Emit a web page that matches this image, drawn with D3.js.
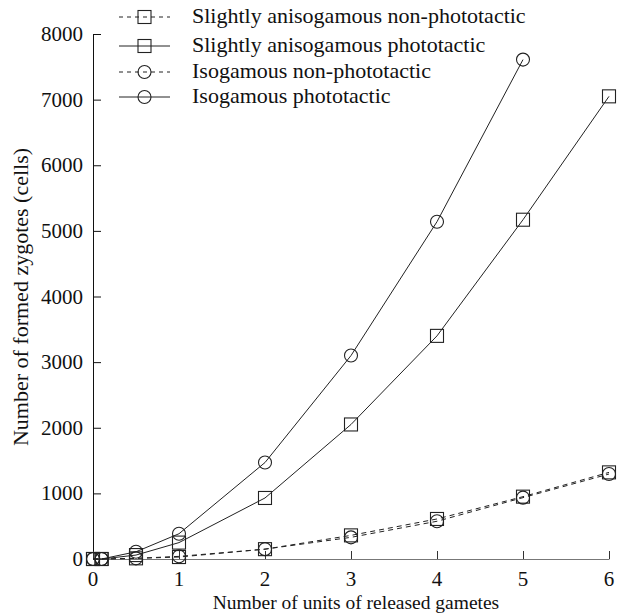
<!DOCTYPE html>
<html><head><meta charset="utf-8">
<script src="https://cdn.jsdelivr.net/npm/d3@7"></script>
</head><body style="margin:0">
<script>
const xsFull = [0, 0.1, 0.5, 1, 2, 3, 4, 5, 6];
const xsIsoPhoto = [0, 0.1, 0.5, 1, 2, 3, 4, 5];
const anisoNon = [0, 0, 10, 30, 150, 360, 610, 950, 1320];
const anisoPhoto = [0, 0, 60, 250, 930, 2050, 3400, 5170, 7050];
const isoNon = [0, 0, 10, 40, 150, 330, 575, 935, 1295];
const isoPhoto = [0, 0, 110, 385, 1470, 3100, 5140, 7610];
const seriesNames = ["Slightly anisogamous non-phototactic","Slightly anisogamous phototactic","Isogamous non-phototactic","Isogamous phototactic"];
const xTicks = [0,1,2,3,4,5,6];
const yTicks = [0,1000,2000,3000,4000,5000,6000,7000,8000];

const W=623,H=615;
const svg=d3.select("body").append("svg").attr("width",W).attr("height",H);
const x=d3.scaleLinear().domain([0,6]).range([93,609]);
const y=d3.scaleLinear().domain([0,8000]).range([559,34]);

const series=[
 {name:seriesNames[0],xs:xsFull,ys:anisoNon,dash:"5,4",shape:"square"},
 {name:seriesNames[1],xs:xsFull,ys:anisoPhoto,dash:null,shape:"square"},
 {name:seriesNames[2],xs:xsFull,ys:isoNon,dash:"5,4",shape:"circle"},
 {name:seriesNames[3],xs:xsIsoPhoto,ys:isoPhoto,dash:null,shape:"circle"}
];

function txt(sel,size){return sel.style("font-family",'"Liberation Serif"').attr("font-size",size).attr("fill","#111");}

const line=d3.line().x(d=>x(d[0])).y(d=>y(d[1]));
function marker(g,shape,cx,cy){
  if(shape==="square") g.append("rect").attr("x",cx-6.5).attr("y",cy-6.5).attr("width",13).attr("height",13)
    .attr("fill","none").attr("stroke","#222").attr("stroke-width",1.1);
  else g.append("circle").attr("cx",cx).attr("cy",cy).attr("r",6.5)
    .attr("fill","none").attr("stroke","#222").attr("stroke-width",1.1);
}

// tick labels
txt(svg.append("g").selectAll("text").data(yTicks).join("text"),21)
 .attr("x",83).attr("y",d=>y(d)+7).attr("text-anchor","end").text(d=>d);
txt(svg.append("g").selectAll("text").data(xTicks).join("text"),21)
 .attr("x",d=>x(d)).attr("y",586).attr("text-anchor","middle").text(d=>d);
txt(svg.append("text"),19.5).attr("x",356).attr("y",609).attr("text-anchor","middle")
 .text("Number of units of released gametes");
txt(svg.append("text"),22).attr("transform","translate(28,297) rotate(-90)").attr("text-anchor","middle")
 .text("Number of formed zygotes (cells)");

// axes
const ya=svg.append("g").attr("transform","translate(93,0)")
 .call(d3.axisRight(y).tickValues(yTicks).tickSize(8).tickFormat(""));
ya.select(".domain").attr("stroke","#111").attr("d","M8,34.5H0.5V559");
ya.selectAll(".tick line").attr("stroke","#111");
const xa=svg.append("g").attr("transform","translate(0,559)")
 .call(d3.axisTop(x).tickValues(xTicks).tickSize(8).tickFormat(""));
xa.select(".domain").attr("stroke","#777").attr("d","M93,0.5H609.5");
xa.selectAll(".tick line").attr("stroke","#333");

series.forEach(s=>{
  const pts=s.xs.map((v,i)=>[v,s.ys[i]]);
  svg.append("path").attr("d",line(pts)).attr("fill","none").attr("stroke","#222").attr("stroke-width",1)
   .attr("stroke-dasharray",s.dash);
  const g=svg.append("g");
  pts.forEach(p=>marker(g,s.shape,x(p[0]),y(p[1])));
});

// legend
const legY=[17,46,72,97];
series.forEach((s,i)=>{
  const g=svg.append("g");
  g.append("line").attr("x1",119).attr("x2",170).attr("y1",legY[i]).attr("y2",legY[i])
   .attr("stroke","#222").attr("stroke-dasharray",s.dash?"4,4":null);
  marker(g,s.shape,144.5,legY[i]);
  txt(g.append("text"),22).attr("x",192).attr("y",legY[i]+6).text(s.name);
});
</script>
</body></html>
